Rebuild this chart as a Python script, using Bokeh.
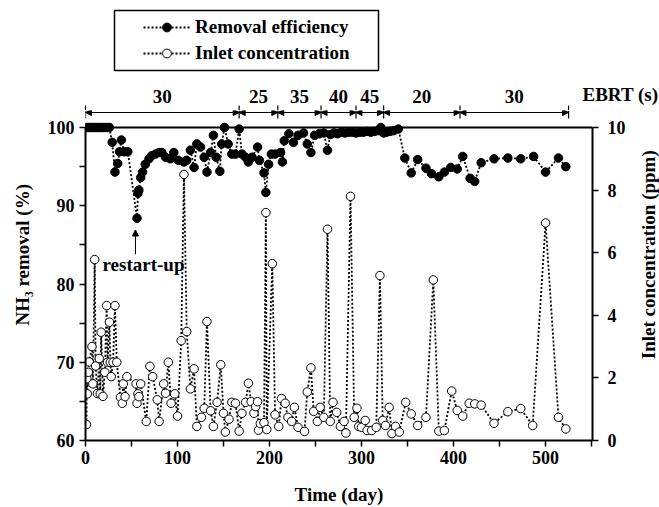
from bokeh.plotting import figure
from bokeh.models import (Range1d, LinearAxis, Label, Arrow, NormalHead, BoxAnnotation,
                          Legend, LegendItem, FixedTicker, Span)
from bokeh.layouts import column, row
from bokeh.embed import file_html
from bokeh.resources import INLINE
import math

# ---------------- data ----------------
removal_day = [0, 2, 4, 6, 8, 10, 12, 14, 16, 18, 20, 22, 24, 26,
               29, 32, 35, 37, 39, 42, 46,
               56, 57, 58, 60, 62, 65, 69, 72, 76, 80,
               83, 87, 92, 96, 101, 107, 110, 114, 118, 121,
               125, 129, 132, 136, 139, 142, 146, 148, 151, 155,
               159, 163, 167, 170, 174, 177, 181, 187, 189, 194,
               196, 199, 202, 206, 212, 214, 216, 221, 226, 231,
               237, 241, 245, 249, 254, 259, 263, 266, 270, 274,
               278, 282, 286, 290, 294, 298, 302, 306, 310, 314,
               318, 321, 324, 327, 331, 335, 340, 347, 354, 361,
               370, 376, 384, 390, 397, 404, 410, 418, 423, 430,
               444, 459, 473, 487, 500, 514, 522]
removal_pct = [100, 100, 100, 100, 100, 100, 100, 100, 100, 100, 100, 100, 100, 100,
               98.1, 94.3, 95.4, 96.9, 98.4, 96.9, 96.9,
               88.4, 91.6, 92.0, 93.6, 94.3, 95.3, 96.0, 96.4, 96.6, 96.8,
               96.8, 96.2, 96.0, 96.8, 95.8, 95.6, 95.8, 97.1, 94.9, 97.9,
               97.5, 96.2, 94.3, 96.8, 99.0, 96.2, 94.4, 97.9, 100.0, 97.9,
               96.6, 96.6, 99.8, 96.6, 96.2, 95.6, 96.2, 97.5, 95.8, 94.2,
               91.7, 95.3, 96.6, 96.6, 96.8, 95.6, 98.3, 99.2, 98.1, 99.0,
               99.3, 97.9, 96.8, 99.0, 99.2, 99.3, 97.1, 99.1, 99.3, 99.2,
               99.4, 99.3, 99.4, 99.4, 99.3, 99.4, 99.4, 99.5, 99.4, 99.5,
               99.6, 100.0, 99.3, 99.4, 99.5, 99.6, 99.8, 96.1, 94.2, 95.9,
               94.8, 94.1, 93.7, 94.3, 94.9, 94.7, 96.3, 93.5, 93.1, 95.5,
               96.0, 96.1, 96.0, 96.3, 94.3, 96.1, 95.0]

inlet_day = [1, 1.5, 2, 3, 4, 7, 8, 10, 11, 13, 15, 16, 17, 19, 21, 23, 24, 26, 27, 28,
             30, 32, 34, 38, 40, 41, 43, 45,
             55, 56, 57, 58, 60, 66, 70, 73, 78, 80, 85, 87, 90, 93, 97,
             100, 104, 107, 110, 114, 118, 121, 126, 129, 132, 136, 139, 143, 147, 150,
             152, 156, 159, 163, 167, 170, 174, 177, 180, 183, 185, 187, 188, 190, 194,
             196, 197, 203, 206, 210, 213, 217, 220, 224, 227, 231, 238, 241, 245, 248,
             252, 255, 259, 263, 266, 269, 273, 277, 281, 283, 288, 292, 295, 297, 300,
             304, 306, 311, 316, 320, 323, 326, 330, 333, 337, 341, 348, 354, 361, 370,
             378, 384, 390, 398, 404, 410, 417, 423, 430, 444, 459, 473, 486, 500, 514, 522]
inlet_ppm = [0.51, 1.97, 1.49, 2.18, 2.51, 3.00, 1.81, 5.78, 2.38, 1.50, 2.62, 1.49, 3.46, 1.41,
             2.18, 4.31, 2.50, 3.78, 2.50, 2.04, 2.50, 4.31, 2.50, 1.38, 1.19, 1.81, 1.40, 2.04,
             1.81, 1.19, 1.49, 1.40, 1.81, 0.61, 2.37, 2.04, 1.30, 0.61, 1.81, 1.51, 2.50, 1.19, 1.49,
             0.78, 3.19, 8.50, 3.48, 1.65, 2.29, 0.45, 0.74, 1.03, 3.80, 0.95, 0.45, 1.22, 2.42, 0.87,
             0.27, 0.68, 1.22, 1.19, 0.30, 0.87, 1.22, 1.83, 1.24, 0.87, 1.08, 1.24, 0.33, 0.54, 0.57,
             7.28, 0.35, 5.65, 0.82, 0.45, 1.34, 1.19, 0.74, 0.61, 1.06, 0.42, 0.29, 1.55, 2.32, 0.93,
             0.61, 1.06, 0.74, 6.75, 0.61, 1.22, 0.90, 0.45, 0.61, 0.24, 7.80, 0.74, 1.03, 0.45, 0.42,
             0.64, 0.32, 0.32, 0.42, 5.27, 0.64, 0.48, 1.06, 0.22, 0.45, 0.27, 1.22, 0.85, 0.48, 0.74,
             5.13, 0.30, 0.32, 1.58, 0.96, 0.78, 1.19, 1.17, 1.13, 0.55, 0.92, 1.02, 0.48, 6.95, 0.74, 0.37]

ebrt_bounds = [0, 167, 209, 256, 294, 324, 407, 525]
ebrt_labels = ["30", "25", "35", "40", "45", "20", "30"]

x_ticks = [0, 100, 200, 300, 400, 500]
x_minor = [50, 150, 250, 350, 450, 550]
y_ticks = [60, 70, 80, 90, 100]
y_minor = [65, 75, 85, 95]
y2_ticks = [0, 2, 4, 6, 8, 10]

assert len(removal_day) == len(removal_pct)
assert len(inlet_day) == len(inlet_ppm)

# ---------------- layout geometry (page pixels) ----------------
FONT = "Liberation Serif"
PAGE_W, PAGE_H = 659, 507
TOP_H = 110                      # strip with legend and EBRT labels
LEFT_W, RIGHT_W = 40, 29         # strips holding the rotated axis titles
FR_L, FR_R, FR_T100, FR_B = 85, 592, 127, 440
X_MAX = 551.0
PX_PER_DAY = (FR_R - FR_L) / X_MAX
PX_PER_PCT = (FR_B - FR_T100) / 40.0
MAIN_W = PAGE_W - LEFT_W - RIGHT_W
MAIN_H = PAGE_H - TOP_H
y_top = 100 + (FR_T100 - TOP_H) / PX_PER_PCT
y2_top = (y_top - 60) / 4.0
LW = 1.8
DASH = "2 2"


def page_y_to_pct(py):
    return 100 + (FR_T100 - py) / PX_PER_PCT


def bare(width, height, x_range, y_range):
    f = figure(width=width, height=height, x_range=x_range, y_range=y_range,
               output_backend="svg", toolbar_location=None,
               min_border_left=0, min_border_right=0, min_border_top=0, min_border_bottom=0,
               x_axis_location=None, y_axis_location=None)
    f.outline_line_color = None
    f.xgrid.visible = False
    f.ygrid.visible = False
    f.background_fill_color = "white"
    f.border_fill_color = "white"
    return f


def txt(x, y, text, align="center", angle=0.0):
    return Label(x=x, y=y, text=text, angle=angle, text_align=align, text_baseline="middle",
                 text_font=FONT, text_font_style="bold", text_font_size="19px",
                 text_color="black")


# ---------------- main plot ----------------
p = figure(width=MAIN_W, height=MAIN_H, x_range=Range1d(0, X_MAX), y_range=Range1d(60, y_top),
           output_backend="svg", toolbar_location=None,
           min_border_left=FR_L - LEFT_W, min_border_right=LEFT_W + MAIN_W - FR_R,
           min_border_top=0, min_border_bottom=PAGE_H - FR_B,
           x_axis_location=None, y_axis_location=None)
p.outline_line_color = None
p.xgrid.visible = False
p.ygrid.visible = False
p.background_fill_color = "white"
p.border_fill_color = "white"
p.extra_y_ranges = {"conc": Range1d(0, y2_top)}


def style_axis(ax):
    ax.axis_line_width = 2
    ax.axis_line_color = "black"
    ax.major_tick_line_width = 1.5
    ax.minor_tick_line_width = 1.5
    ax.major_tick_out = 6
    ax.major_tick_in = 0
    ax.minor_tick_out = 6
    ax.minor_tick_in = 0
    ax.major_label_text_font = FONT
    ax.major_label_text_font_style = "bold"
    ax.major_label_text_font_size = "18px"
    ax.major_label_text_color = "black"
    ax.axis_label_text_font = FONT
    ax.axis_label_text_font_style = "bold"
    ax.axis_label_text_font_size = "19px"
    ax.axis_label_text_color = "black"


xaxis = LinearAxis(ticker=FixedTicker(ticks=x_ticks, minor_ticks=x_minor),
                   axis_label="Time (day)", axis_label_standoff=17)
style_axis(xaxis)
xaxis.major_label_standoff = 4
p.add_layout(xaxis, "below")

yaxis = LinearAxis(ticker=FixedTicker(ticks=y_ticks, minor_ticks=y_minor), bounds=(60, 100))
style_axis(yaxis)
yaxis.major_label_standoff = 5
p.add_layout(yaxis, "left")

y2axis = LinearAxis(y_range_name="conc", ticker=FixedTicker(ticks=y2_ticks), bounds=(0, 10))
style_axis(y2axis)
y2axis.major_label_standoff = 9
p.add_layout(y2axis, "right")

p.add_layout(Span(location=100, dimension="width", line_color="black", line_width=2))

l2 = p.line(inlet_day, inlet_ppm, y_range_name="conc", line_color="black",
            line_width=LW, line_dash=DASH)
s2 = p.scatter(inlet_day, inlet_ppm, y_range_name="conc", size=8.5, marker="circle",
               fill_color="white", line_color="black", line_width=1)
l1 = p.line(removal_day, removal_pct, line_color="black", line_width=LW, line_dash=DASH)
s1 = p.scatter(removal_day, removal_pct, size=8.5, marker="circle",
               fill_color="black", line_color="black")

# EBRT bar (arrows and lower part of delimiters) sits in the top part of the main frame
y_bar = page_y_to_pct(112)
for i in range(len(ebrt_labels)):
    a, b = ebrt_bounds[i], ebrt_bounds[i + 1]
    p.add_layout(Arrow(x_start=a, x_end=b, y_start=y_bar, y_end=y_bar,
                       line_color="black", line_width=1,
                       start=NormalHead(size=6, fill_color="black", line_color="black"),
                       end=NormalHead(size=6, fill_color="black", line_color="black")))
for bnd in ebrt_bounds:
    p.add_layout(Arrow(x_start=bnd, x_end=bnd, y_start=page_y_to_pct(118), y_end=y_top,
                       line_color="black", line_width=1.2, start=None, end=None))

p.add_layout(txt(18.5, 82.5, "restart-up", align="left"))
p.add_layout(Arrow(x_start=54.3, x_end=54.3, y_start=83.8, y_end=86.9,
                   line_color="black", line_width=1,
                   end=NormalHead(size=6, fill_color="black", line_color="black")))

# ---------------- top strip: legend + EBRT labels (y = page pixel row) ----------------
top = bare(PAGE_W, TOP_H, Range1d(-FR_L / PX_PER_DAY, (PAGE_W - FR_L) / PX_PER_DAY),
           Range1d(TOP_H, 0))
for bnd in ebrt_bounds:
    top.add_layout(Arrow(x_start=bnd, x_end=bnd, y_start=105, y_end=TOP_H,
                         line_color="black", line_width=1.2, start=None, end=None))
for i, lab in enumerate(ebrt_labels):
    a, b = ebrt_bounds[i], ebrt_bounds[i + 1]
    top.add_layout(txt((a + b) / 2, 95.5, lab))
top.add_layout(txt((582 - FR_L) / PX_PER_DAY, 94, "EBRT (s)", align="left"))

# legend samples live in the top strip (drawn off-view, shown only in the legend)
tl1 = top.line([-900, -800], [500, 500], line_color="black", line_width=LW, line_dash=DASH)
ts1 = top.scatter([-900, -800], [500, 500], size=8.5, marker="circle",
                  fill_color="black", line_color="black")
tl2 = top.line([-900, -800], [500, 500], line_color="black", line_width=LW, line_dash=DASH)
ts2 = top.scatter([-900, -800], [500, 500], size=8.5, marker="circle",
                  fill_color="white", line_color="black", line_width=1)
top.add_layout(BoxAnnotation(left=(114 - FR_L) / PX_PER_DAY, right=(378 - FR_L) / PX_PER_DAY,
                             bottom=70, top=10, fill_alpha=0, line_color="black",
                             line_width=1.5, line_alpha=1))
legend = Legend(items=[LegendItem(label="Removal efficiency", renderers=[tl1, ts1]),
                       LegendItem(label="Inlet concentration", renderers=[tl2, ts2])],
                location=(137, TOP_H - 70), border_line_alpha=0, background_fill_alpha=0,
                label_text_font=FONT, label_text_font_style="bold", label_text_color="black",
                label_text_font_size="19px", glyph_width=47, glyph_height=22,
                label_height=22, padding=6, spacing=4, label_standoff=5, margin=0)
top.add_layout(legend)

# ---------------- side strips: rotated axis titles (y = page pixel row) ----------------
left = bare(LEFT_W, MAIN_H, Range1d(0, LEFT_W), Range1d(PAGE_H, TOP_H))
left.add_layout(txt(22, 283.5, "NH₃ removal (%)", angle=math.pi / 2))
right = bare(RIGHT_W, MAIN_H, Range1d(PAGE_W - RIGHT_W, PAGE_W), Range1d(PAGE_H, TOP_H))
right.add_layout(txt(648, 283.5, "Inlet concentration (ppm)", angle=math.pi / 2))

layout = column(top, row(left, p, right))
open("out.html", "w").write(file_html(layout, INLINE))
